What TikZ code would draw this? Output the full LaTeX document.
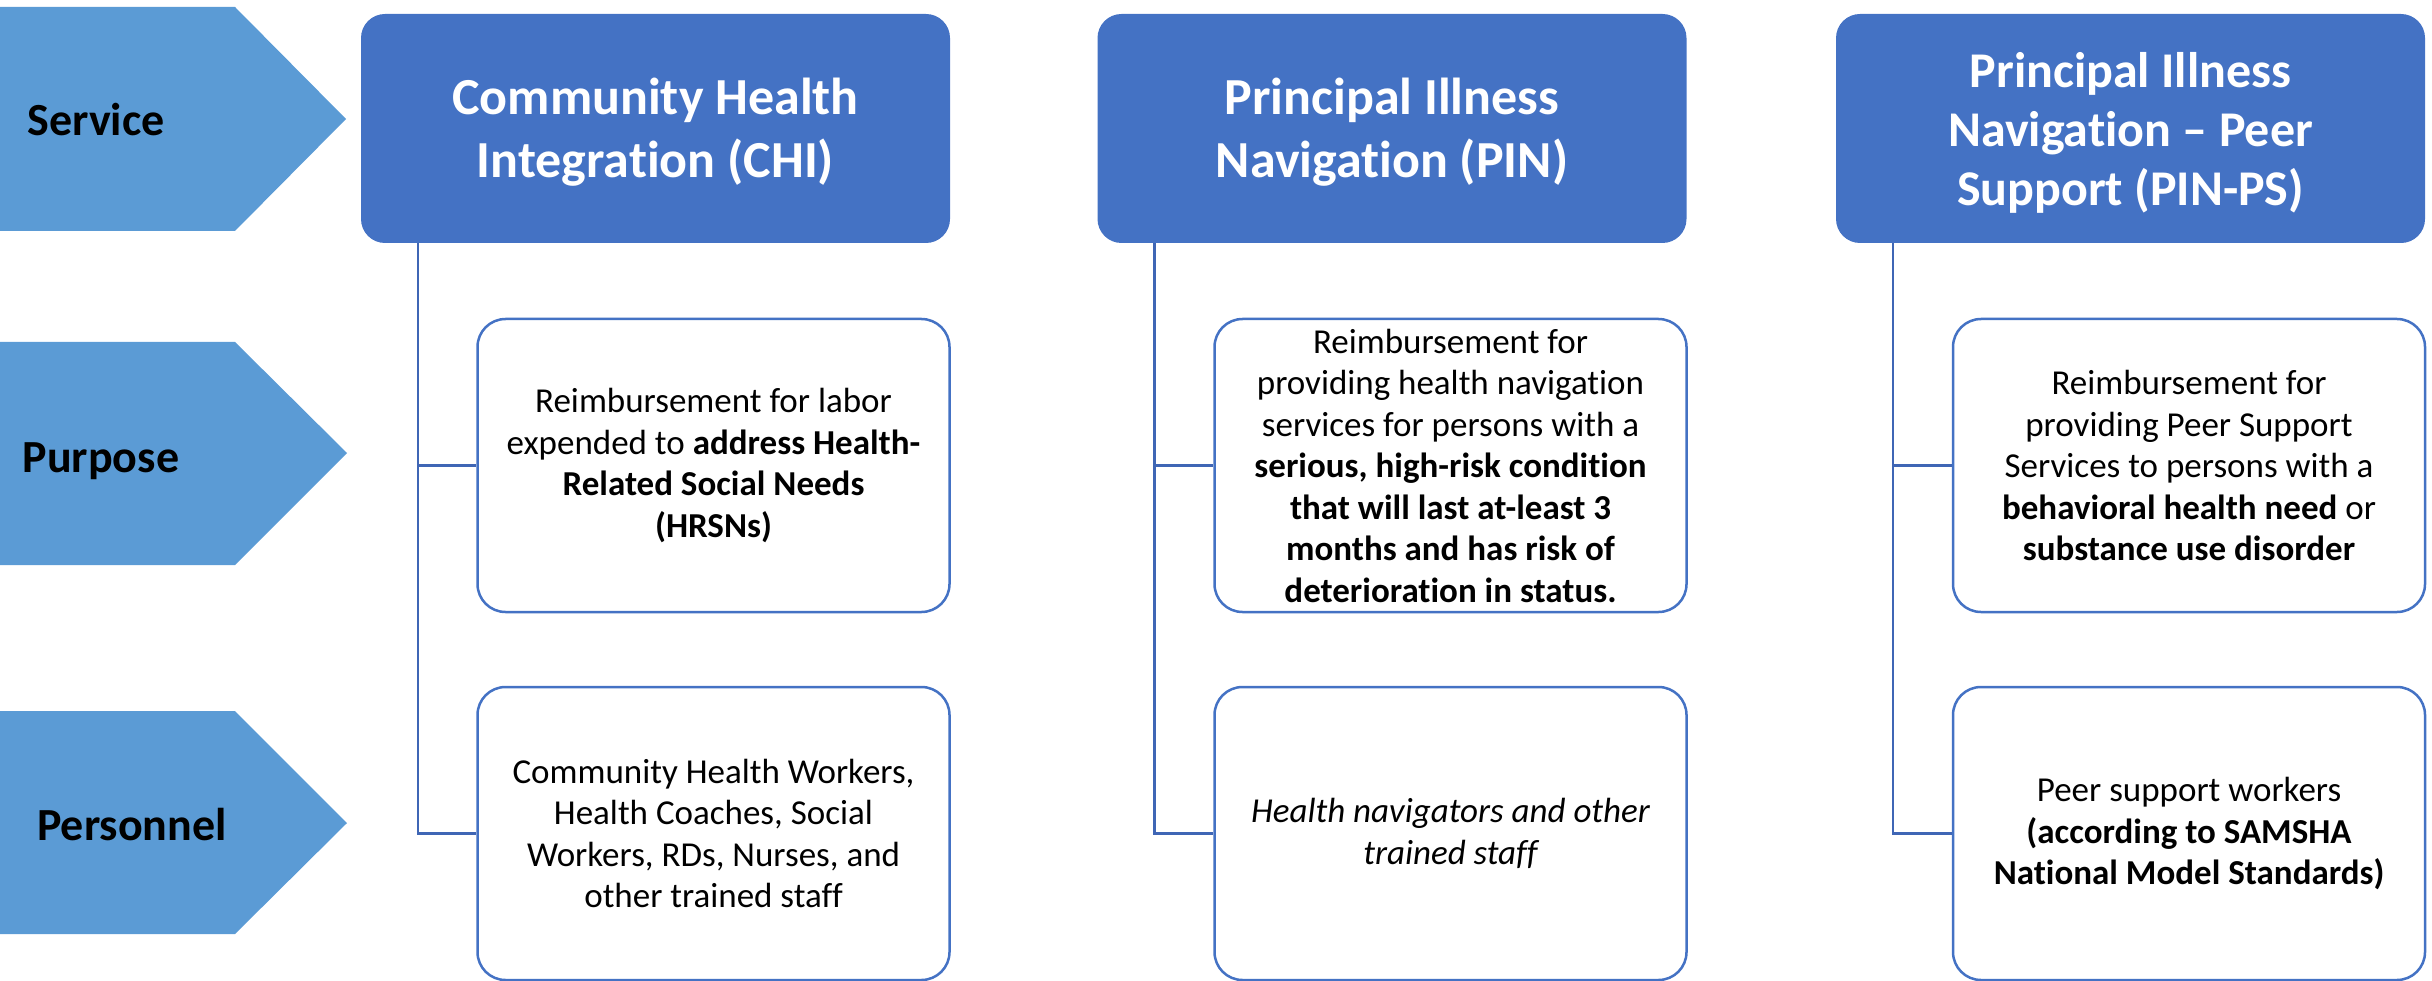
\documentclass[tikz,border=0pt]{standalone}
\usepackage{fontspec}
\setmainfont{Carlito}[Ligatures=NoCommon]
\definecolor{hdrblue}{HTML}{4472C4}
\definecolor{chevblue}{HTML}{5B9BD5}
\definecolor{lineblue}{HTML}{3F66B5}
\begin{document}
\begin{tikzpicture}[x=1pt,y=-1pt,
  header/.style={fill=hdrblue, rounded corners=24pt, minimum width=589pt,
    minimum height=229pt, inner sep=0pt},
  headtext/.style={text=white, align=center, inner sep=0pt,
    font=\fontsize{52}{63}\selectfont\bfseries},
  infobox/.style={draw=hdrblue, line width=2.5pt, fill=white, rounded corners=28pt,
    minimum width=472pt, minimum height=293pt, inner sep=0pt, align=center,
    font=\fontsize{35}{41.5}\selectfont},
  rowlabel/.style={font=\fontsize{46}{55}\selectfont\bfseries, inner sep=0pt},
  conn/.style={draw=lineblue, line width=2.5pt}]
\useasboundingbox (0,0) rectangle (2432,981);

% row chevrons
\fill[chevblue] (-5,7)   -- (235,7)   -- (346,119) -- (235,231) -- (-5,231) -- cycle;
\fill[chevblue] (-5,342) -- (235,342) -- (347,453) -- (235,565) -- (-5,565) -- cycle;
\fill[chevblue] (-5,711) -- (235,711) -- (347,823) -- (235,934) -- (-5,934) -- cycle;
\node[rowlabel] (lblService)   at (96,120)  {Service};
\node[rowlabel] (lblPurpose)   at (101,461) {Purpose};
\node[rowlabel] (lblPersonnel) at (132,825) {Personnel};

% service headers
\node[header] (h1) at (655.5,128.5) {};
\node[header] (h2) at (1392,128.5)  {};
\node[header] (h3) at (2130.5,128.5) {};
\node[headtext] (t1) at ([yshift=-4pt]h1.center) {Community Health\\Integration (CHI)};
\node[headtext] (t2) at ([yshift=-4pt]h2.center) {Principal Illness\\Navigation (PIN)};
\node[headtext, font=\fontsize{50}{59}\selectfont\bfseries] (t3) at ([yshift=-4pt]h3.center)
  {Principal Illness\\Navigation -- Peer\\Support (PIN-PS)};

% purpose boxes
\node[infobox] (p1) at (713.5,465.5) {Reimbursement for labor\\expended to \textbf{address Health-}\\\textbf{Related Social Needs}\\\textbf{(HRSNs)}};
\node[infobox] (p2) at (1450.5,465.5) {Reimbursement for\\providing health navigation\\services for persons with a\\\textbf{serious, high-risk condition}\\\textbf{that will last at-least 3}\\\textbf{months and has risk of}\\\textbf{deterioration in status.}};
\node[infobox] (p3) at (2189,465.5) {Reimbursement for\\providing Peer Support\\Services to persons with a\\\textbf{behavioral health need} or\\\textbf{substance use disorder}};

% personnel boxes
\node[infobox] (q1) at (713.5,833.5) {Community Health Workers,\\Health Coaches, Social\\Workers, RDs, Nurses, and\\other trained staff};
\node[infobox] (q2) at (1450.5,833.5) {\itshape Health navigators and other\\\itshape trained staff};
\node[infobox] (q3) at (2189,833.5) {Peer support workers\\\textbf{(according to SAMSHA}\\\textbf{National Model Standards)}};

% hierarchy connectors
\foreach \c in {1,2,3}{
  \draw[conn] ([xshift=57pt]h\c.south west) |- (p\c.west);
  \draw[conn] ([xshift=57pt]h\c.south west) |- (q\c.west);
}
\end{tikzpicture}
\end{document}
